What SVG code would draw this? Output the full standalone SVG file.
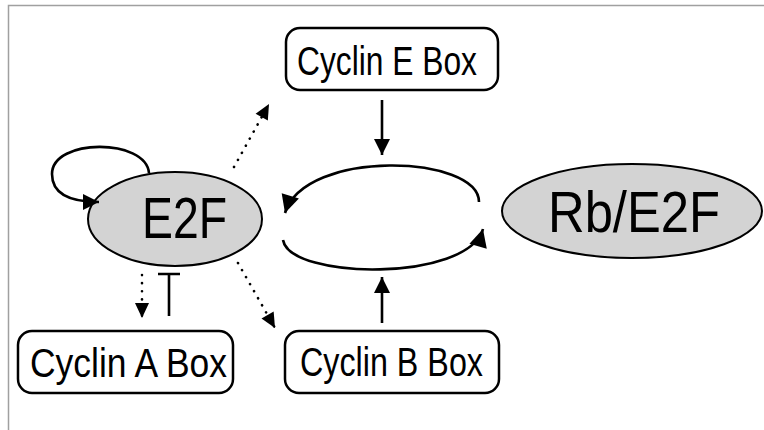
<svg xmlns="http://www.w3.org/2000/svg" width="764" height="430" viewBox="0 0 764 430">
  <style>
    .frame { stroke: #a0a0a0; stroke-width: 1.5; fill: none; }
    .ell { fill: #d3d3d3; stroke: #000; stroke-width: 2; }
    .box { fill: #fff; stroke: #000; stroke-width: 2.5; }
    .big { font-family: "Liberation Sans", Arial, sans-serif; font-size: 57px; fill: #000; }
    .lbl { font-family: "Liberation Sans", Arial, sans-serif; font-size: 40px; fill: #000; }
    .solid { stroke: #000; stroke-width: 2.6; fill: none; }
    .dot { stroke: #000; stroke-width: 2.6; fill: none; stroke-linecap: round; stroke-dasharray: 0.1 8; }
  </style>
  <defs>
    <marker id="arrow" markerUnits="userSpaceOnUse" markerWidth="18" markerHeight="16" refX="16" refY="8" orient="auto" overflow="visible">
      <path d="M0,0 L16,8 L0,16 z" fill="#000"/>
    </marker>
    <marker id="arrowLarge" markerUnits="userSpaceOnUse" markerWidth="20" markerHeight="18" refX="18" refY="9" orient="auto" overflow="visible">
      <path d="M0,0 L18,9 L0,18 z" fill="#000"/>
    </marker>
    <marker id="arrowSmall" markerUnits="userSpaceOnUse" markerWidth="16" markerHeight="14" refX="15" refY="7" orient="auto" overflow="visible">
      <path d="M0,0 L15,7 L0,14 z" fill="#000"/>
    </marker>
  </defs>

  <rect width="764" height="430" fill="#fff"/>
  <path class="frame" d="M8.5 430 V5.5 H764"/>

  <g id="node-e2f">
    <ellipse class="ell" cx="175" cy="219" rx="87" ry="47"/>
    <text class="big" x="142" y="238" textLength="85" lengthAdjust="spacingAndGlyphs">E2F</text>
  </g>

  <g id="node-rb-e2f">
    <ellipse class="ell" cx="632" cy="211" rx="130" ry="47"/>
    <text class="big" x="548" y="232" textLength="172" lengthAdjust="spacingAndGlyphs">Rb/E2F</text>
  </g>

  <g id="node-cyclin-e">
    <rect class="box" x="286" y="28" width="212" height="62" rx="14"/>
    <text class="lbl" x="297" y="75" textLength="180" lengthAdjust="spacingAndGlyphs">Cyclin E Box</text>
  </g>

  <g id="node-cyclin-a">
    <rect class="box" x="18" y="331" width="215" height="62" rx="14"/>
    <text class="lbl" x="30" y="377" textLength="197" lengthAdjust="spacingAndGlyphs">Cyclin A Box</text>
  </g>

  <g id="node-cyclin-b">
    <rect class="box" x="285" y="331" width="214" height="62" rx="14"/>
    <text class="lbl" x="300" y="376" textLength="183" lengthAdjust="spacingAndGlyphs">Cyclin B Box</text>
  </g>

  <g id="connectors">
    <!-- E2F self-activation loop -->
    <path class="solid" d="M149 173 C146 138 52 138 52 174 C52 196 74 202 99 202" marker-end="url(#arrow)"/>
    <!-- cycle between E2F and Rb/E2F -->
    <path class="solid" d="M479 202 C479 155 305 148 285 213" marker-end="url(#arrowLarge)"/>
    <path class="solid" d="M283 240 C290 280 468 282 483 229" marker-end="url(#arrowLarge)"/>
    <!-- Cyclin E and B feed into the cycle -->
    <line class="solid" x1="382" y1="100" x2="382" y2="155" marker-end="url(#arrow)"/>
    <line class="solid" x1="382" y1="323" x2="382" y2="277" marker-end="url(#arrow)"/>
    <!-- E2F dotted outputs -->
    <line class="dot" x1="234" y1="167" x2="269" y2="104" marker-end="url(#arrowSmall)"/>
    <line class="dot" x1="238" y1="263" x2="275" y2="328" marker-end="url(#arrowSmall)"/>
    <line class="dot" x1="142" y1="275" x2="142" y2="318" marker-end="url(#arrowSmall)"/>
    <!-- inhibition bar -->
    <path class="solid" d="M169 316 V274 M158 274 H180"/>
  </g>
</svg>
